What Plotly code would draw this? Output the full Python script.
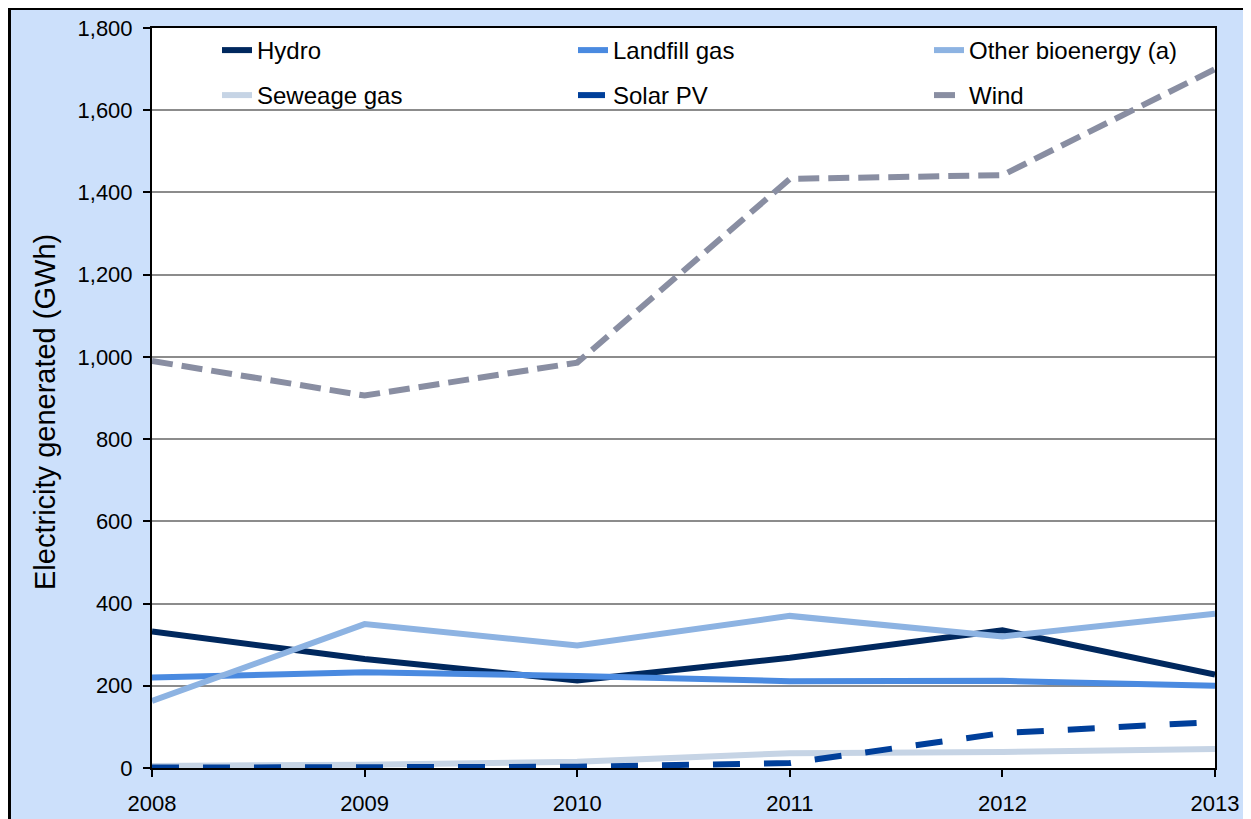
import plotly.graph_objects as go

years = [2008, 2009, 2010, 2011, 2012, 2013]
hydro = [332, 265, 213, 268, 335, 227]
landfill = [220, 233, 224, 211, 212, 200]
other_bio = [163, 350, 298, 370, 320, 375]
seweage = [5, 8, 15, 36, 39, 46]
solar = [1, 1, 3, 12, 85, 112]
wind = [990, 906, 986, 1433, 1442, 1700]

y_ticks = [0, 200, 400, 600, 800, 1000, 1200, 1400, 1600, 1800]
y_tick_labels = ["0", "200", "400", "600", "800", "1,000", "1,200", "1,400", "1,600", "1,800"]
y_title = "Electricity generated (GWh)"

FONT = "Liberation Sans, Arial, sans-serif"
BG = "#cce0fb"

W, H = 1243, 811
L, R, T, B = 144, 36, 20, 51
PW, PH = W - L - R, H - T - B

# legend grid: 3 columns x 2 rows (pixel offsets inside the plot area)
col_x = [65, 421, 777]
row_y = [0, 45]

series = [
    ("Hydro", hydro, "#00285e", "solid"),
    ("Landfill gas", landfill, "#4a8ae0", "solid"),
    ("Other bioenergy (a)", other_bio, "#8db3e2", "solid"),
    ("Seweage gas", seweage, "#c6d4e5", "solid"),
    ("Solar PV", solar, "#003f9a", "27px,24px"),
    ("Wind", wind, "#898ea2", "21px,9px"),
]

fig = go.Figure()
legends = {}
for i, (name, vals, color, dash) in enumerate(series):
    key = "legend" if i == 0 else f"legend{i + 1}"
    fig.add_trace(go.Scatter(
        x=years, y=vals, name=name, mode="lines",
        line=dict(color=color, width=6, dash=dash),
        legend=key, showlegend=True, cliponaxis=False,
    ))
    legends[key] = dict(
        x=col_x[i % 3] / PW, y=1 - row_y[i // 3] / PH,
        xanchor="left", yanchor="top", orientation="h",
        bgcolor="rgba(0,0,0,0)", borderwidth=0,
        font=dict(family=FONT, size=24, color="black"),
    )

fig.update_layout(
    width=W, height=H, showlegend=True,
    margin=dict(l=L, r=R, t=T, b=B, pad=0, autoexpand=False),
    paper_bgcolor=BG, plot_bgcolor="white",
    font=dict(family=FONT, color="black"),
    xaxis=dict(
        range=[2008, 2013], tickvals=years, ticktext=[str(y) for y in years],
        showgrid=False, zeroline=False,
        showline=True, linecolor="black", linewidth=2, mirror=True,
        ticks="outside", ticklen=7, tickwidth=2, tickcolor="black",
        ticklabelstandoff=8,
        tickfont=dict(family=FONT, size=22),
    ),
    yaxis=dict(
        range=[0, 1800], tickvals=y_ticks, ticktext=y_tick_labels,
        showgrid=True, gridcolor="#8c8c8c", gridwidth=2, zeroline=False,
        showline=True, linecolor="black", linewidth=2, mirror=True,
        ticks="outside", ticklen=7, tickwidth=2, tickcolor="black",
        ticklabelstandoff=6,
        tickfont=dict(family=FONT, size=22),
    ),
    annotations=[dict(
        text=y_title, xref="paper", yref="paper",
        x=(45 - 152) / PW, y=(768 - 412) / PH,
        xanchor="center", yanchor="middle", textangle=-90, showarrow=False,
        font=dict(family=FONT, size=29, color="black"),
    )],
    shapes=[dict(
        type="rect", xref="paper", yref="paper",
        x0=(1.5 - L) / PW, x1=1.2, y0=-0.3, y1=1 + (T - 0.5) / PH,
        line=dict(color="black", width=3), fillcolor="rgba(0,0,0,0)", layer="below",
    )],
    **legends,
)

fig.write_html("out.html")
